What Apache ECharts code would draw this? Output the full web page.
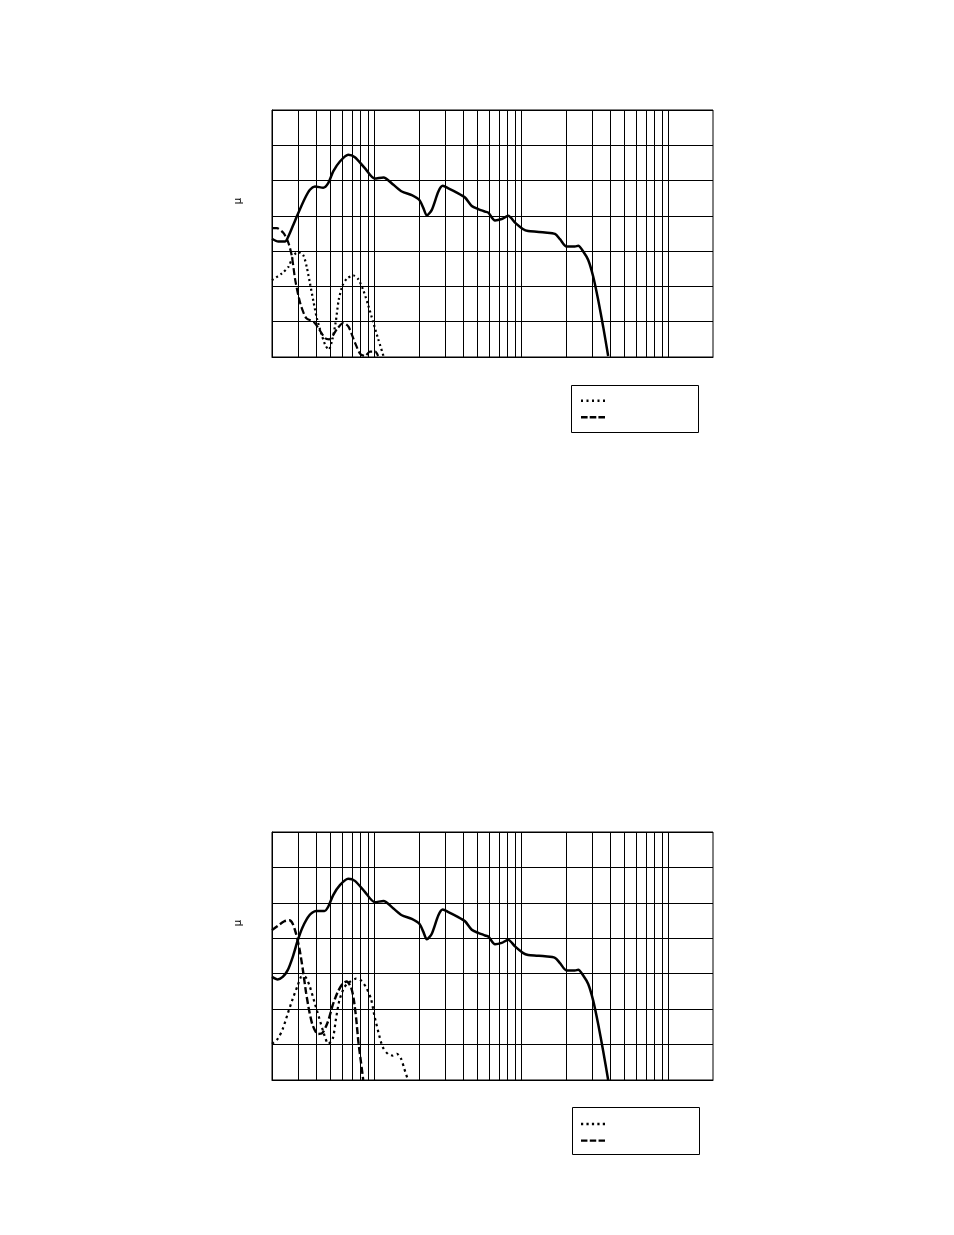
<!DOCTYPE html>
<html>
<head>
<meta charset="utf-8">
<script src="https://cdn.jsdelivr.net/npm/echarts@6/dist/echarts.min.js"></script>
<style>
html,body{margin:0;padding:0;background:#fff;}
#chart{width:954px;height:1235px;}
</style>
</head>
<body>
<div id="chart"></div>
<script>
// vertical grid line positions (log x axis, 1 .. 1000)
const xGridLines = [1.5,2,2.5,3,3.5,4,4.5,5,10,15,20,25,30,35,40,45,50,100,150,200,250,300,350,400,450,500];

// ---- top chart ----
const topSolidX = [1.0,1.104,1.225,1.290,1.395,1.509,1.676,1.812,1.960,2.231,2.412,2.609,2.897,3.299,3.664,4.283,4.994,5.731,6.701,7.642,8.935,10.06,10.71,11.30,12.22,13.55,14.51,15.85,18.07,20.56,22.85,25.33,28.12,29.61,32.89,36.52,40.46,44.98,51.2,55.3,63.1,71.9,84.1,91.0,100.9,115.0,121.1,130.9,141.6,153.1,165.5,179.0,193.6];
const topSolidY = [3.35,3.27,3.27,3.41,3.74,4.08,4.50,4.74,4.83,4.80,4.93,5.26,5.54,5.73,5.66,5.35,5.06,5.09,4.88,4.69,4.59,4.45,4.22,4.01,4.17,4.69,4.85,4.78,4.66,4.52,4.28,4.19,4.12,4.09,3.87,3.91,4.00,3.81,3.62,3.57,3.55,3.53,3.49,3.34,3.13,3.13,3.15,2.99,2.75,2.28,1.62,0.86,0.03];

const topDotX = [1.0,1.169,1.297,1.374,1.462,1.557,1.644,1.723,1.812,1.917,2.016,2.162,2.302,2.432,2.568,2.713,2.843,3.027,3.247,3.584,3.857,4.172,4.511,4.878,5.275,5.731];
const topDotY = [2.18,2.37,2.56,2.81,2.95,2.96,2.86,2.55,2.09,1.56,1.11,0.67,0.34,0.21,0.48,0.99,1.62,2.04,2.23,2.31,2.21,1.90,1.47,0.99,0.51,0.03];

const topDashX = [1.0,1.081,1.199,1.297,1.367,1.439,1.557,1.710,1.917,2.073,2.302,2.451,2.764,3.064,3.314,3.681,3.98,4.285,4.633,5.033,5.27];
const topDashY = [3.65,3.65,3.51,3.22,2.84,2.18,1.52,1.10,1.00,0.81,0.53,0.50,0.79,0.97,0.86,0.39,0.09,0.03,0.15,0.15,0.03];

// ---- bottom chart ----
const botSolidX = [1.0,1.093,1.183,1.279,1.383,1.496,1.618,1.797,1.993,2.273,2.412,2.609,2.897,3.299,3.664,4.283,4.994,5.731,6.701,7.642,8.935,10.06,10.71,11.30,12.22,13.55,14.51,15.85,18.07,20.56,22.85,25.33,28.12,29.61,32.89,36.52,40.46,44.98,51.2,55.3,63.1,71.9,84.1,91.0,100.9,115.0,121.1,130.9,141.6,153.1,165.5,179.0,193.6];
const botSolidY = [2.91,2.84,2.91,3.10,3.47,3.94,4.32,4.65,4.77,4.77,4.89,5.22,5.50,5.68,5.62,5.31,5.02,5.05,4.84,4.65,4.55,4.41,4.18,3.97,4.13,4.65,4.81,4.74,4.62,4.48,4.24,4.15,4.08,4.05,3.83,3.87,3.96,3.77,3.58,3.53,3.51,3.49,3.45,3.30,3.09,3.09,3.11,2.95,2.71,2.24,1.58,0.82,0.0];

const botDotX = [1.0,1.093,1.183,1.279,1.383,1.496,1.580,1.669,1.797,1.943,2.101,2.273,2.412,2.588,2.726,2.874,3.108,3.361,3.728,4.031,4.361,4.715,4.973,5.293,5.664,6.125,6.625,7.085,7.567,7.954,8.378];
const botDotY = [1.02,1.16,1.44,1.87,2.29,2.67,2.91,2.92,2.67,2.20,1.73,1.26,1.02,1.16,1.73,2.25,2.62,2.76,2.86,2.81,2.62,2.29,1.82,1.35,0.93,0.74,0.69,0.74,0.59,0.31,0.02];

const botDashX = [1.0,1.093,1.214,1.313,1.383,1.457,1.536,1.618,1.703,1.797,1.892,2.046,2.179,2.393,2.588,2.798,3.027,3.222,3.446,3.595,3.739,3.871,4.031,4.173];
const botDashY = [4.23,4.35,4.48,4.51,4.41,4.13,3.71,3.14,2.48,1.92,1.54,1.30,1.31,1.63,2.11,2.48,2.72,2.78,2.62,2.29,1.73,1.07,0.50,0.0];

const zip = (xs, ys) => xs.map((x, i) => [x, ys[i]]);

// legend icon shapes (dots / dashes)
const dotIcon = 'path://M0 0h2v2h-2z M5.5 0h2v2h-2z M11 0h2v2h-2z M16.5 0h2v2h-2z M22 0h2v2h-2z';
const dashIcon = 'path://M0 0h6.6v2h-6.6z M8.7 0h6.6v2h-6.6z M17.4 0h6.6v2h-6.6z';
const dotIcon2 = 'path://M0 0h2.2v2.4h-2.2z M5.4 0h2.2v2.4h-2.2z M10.8 0h2.2v2.4h-2.2z M16.2 0h2.2v2.4h-2.2z M21.6 0h2.2v2.4h-2.2z';
const dashIcon2 = 'path://M0 0h6.6v2.6h-6.6z M9 0h6.6v2.6h-6.6z M18 0h6.6v2.6h-6.6z';

const grids = [
  {left: 272, top: 110, width: 441, height: 247, show: true, borderColor: '#000', borderWidth: 1, backgroundColor: 'transparent'},
  {left: 272, top: 832, width: 441, height: 248, show: true, borderColor: '#000', borderWidth: 1, backgroundColor: 'transparent'}
];

function xAx(i){
  return {type: 'log', logBase: 10, min: 1, max: 1000, gridIndex: i,
    axisLabel: {show: false}, axisTick: {show: false}, splitLine: {show: false},
    minorSplitLine: {show: false},
    axisLine: {show: true, lineStyle: {color: '#000', width: 1}}};
}
function yAx(i){
  return {type: 'value', min: 0, max: 7, interval: 1, gridIndex: i,
    axisLabel: {show: false}, axisTick: {show: false},
    splitLine: {show: true, lineStyle: {color: '#000', width: 1}},
    axisLine: {show: true, lineStyle: {color: '#000', width: 1}}};
}

function solid(i, xs, ys){
  return {type: 'line', name: 'solid' + i, xAxisIndex: i, yAxisIndex: i, data: zip(xs, ys),
    symbol: 'none', smooth: 0.25, itemStyle: {color: '#000'},
    lineStyle: {color: '#000', width: 2.5, type: 'solid'},
    markLine: {silent: true, symbol: ['none', 'none'], label: {show: false},
      lineStyle: {color: '#000', width: 1, type: 'solid'},
      data: xGridLines.map(v => ({xAxis: v}))},
    z: 3};
}
function dotted(i, name, xs, ys, dash, w){
  return {type: 'line', name: name, xAxisIndex: i, yAxisIndex: i, data: zip(xs, ys),
    symbol: 'none', smooth: 0.25, itemStyle: {color: '#000'},
    lineStyle: {color: '#000', width: w, type: dash, cap: 'butt'}, z: 4};
}

function legendAt(top, names, icons){
  return {data: [{name: names[0], icon: icons[0]}, {name: names[1], icon: icons[1]}],
    left: 581, top: top, orient: 'vertical', itemWidth: 24, itemHeight: 2.4, itemGap: 14.2,
    padding: 0, formatter: () => '', selectedMode: false, textStyle: {fontSize: 1},
    itemStyle: {color: '#000', borderWidth: 0}, symbolKeepAspect: false};
}

const option = {
  animation: false,
  backgroundColor: '#fff',
  grid: grids,
  xAxis: [xAx(0), xAx(1)],
  yAxis: [yAx(0), yAx(1)],
  legend: [
    legendAt(399.5, ['A1', 'A2'], [dotIcon, dashIcon]),
    legendAt(1122.8, ['B1', 'B2'], [dotIcon2, dashIcon2])
  ],
  graphic: [
    {type: 'rect', shape: {x: 571.5, y: 385.5, width: 127, height: 47}, style: {fill: '#fff', stroke: '#000', lineWidth: 1}, z: 0},
    {type: 'rect', shape: {x: 572.5, y: 1107.5, width: 127, height: 47}, style: {fill: '#fff', stroke: '#000', lineWidth: 1}, z: 0},
    {type: 'text', x: 238, y: 201, rotation: Math.PI / 2, style: {text: 'μ', fill: '#000', font: '10px "DejaVu Sans"', textAlign: 'center', textVerticalAlign: 'middle'}},
    {type: 'text', x: 238, y: 923, rotation: Math.PI / 2, style: {text: 'μ', fill: '#000', font: '10px "DejaVu Sans"', textAlign: 'center', textVerticalAlign: 'middle'}}
  ],
  series: [
    solid(0, topSolidX, topSolidY),
    dotted(0, 'A1', topDotX, topDotY, [2, 3], 2.2),
    dotted(0, 'A2', topDashX, topDashY, [7, 3], 2.2),
    solid(1, botSolidX, botSolidY),
    dotted(1, 'B1', botDotX, botDotY, [2.5, 3.5], 2.2),
    dotted(1, 'B2', botDashX, botDashY, [7, 3], 2.4)
  ]
};

const chart = echarts.init(document.getElementById('chart'), null, {renderer: 'canvas'});
chart.setOption(option);
</script>
</body>
</html>
